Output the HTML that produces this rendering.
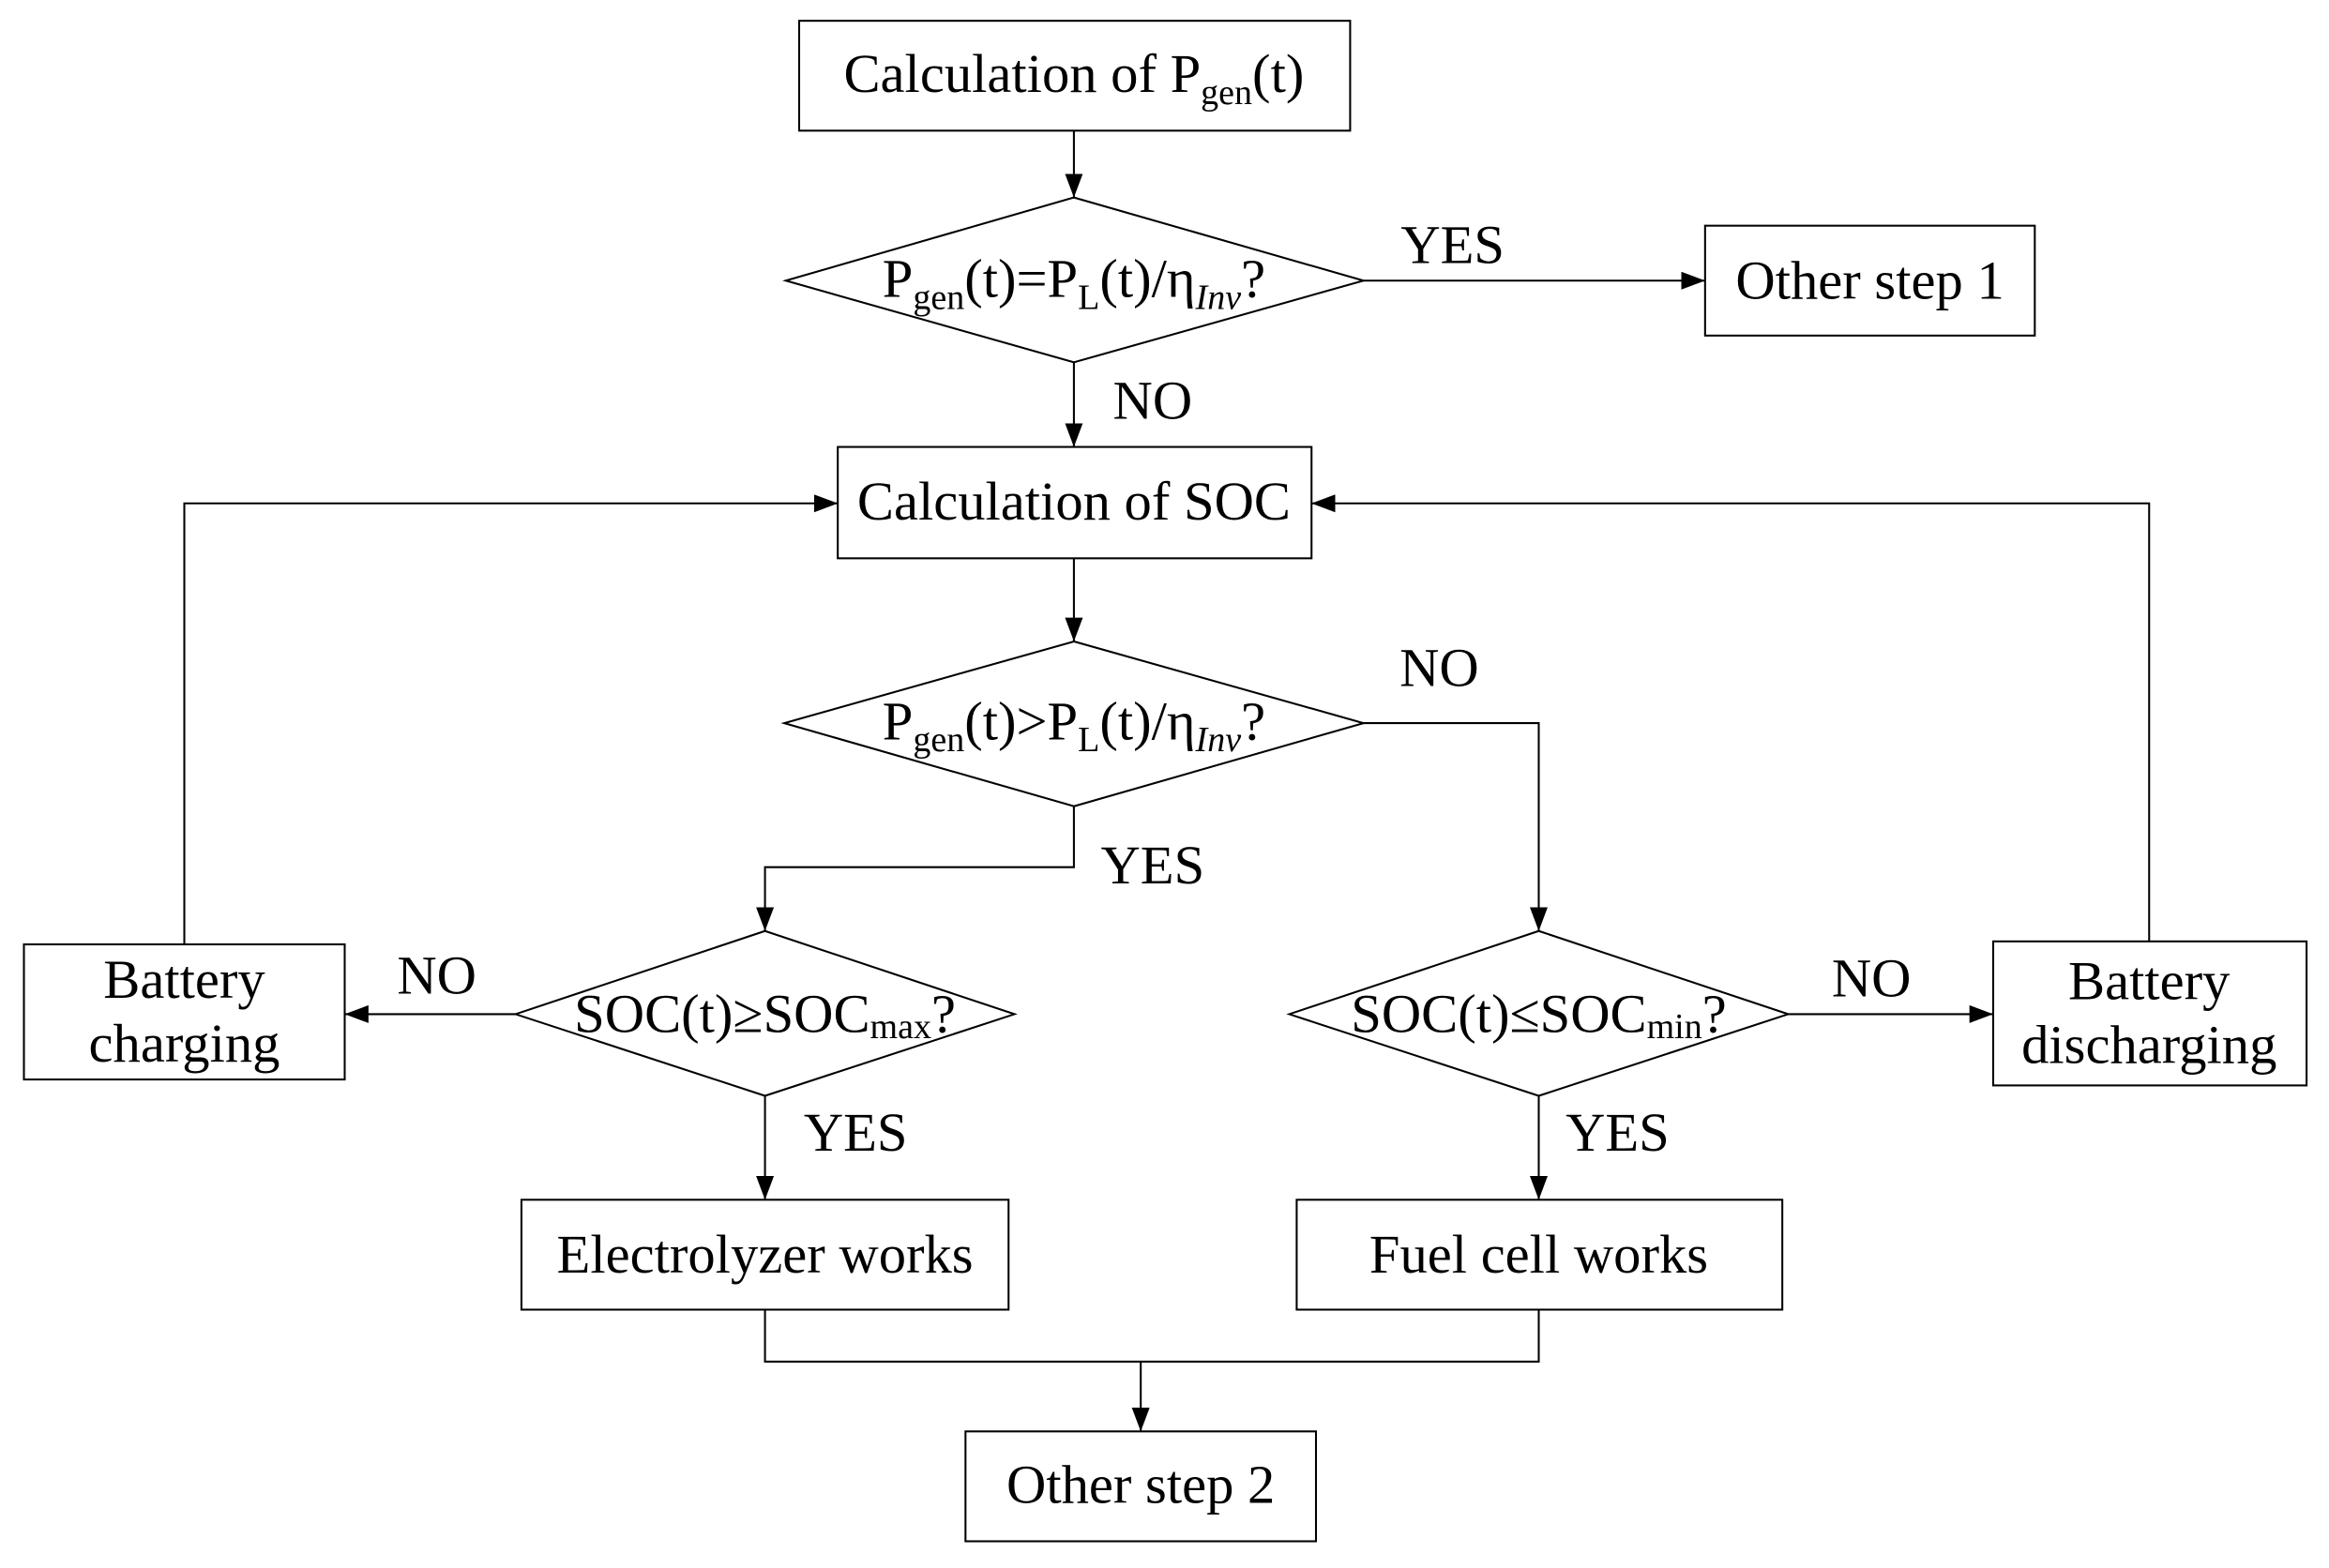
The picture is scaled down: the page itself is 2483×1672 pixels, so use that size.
<!DOCTYPE html>
<html><head><meta charset="utf-8"><style>html,body{margin:0;padding:0;background:#fff}svg{display:block}</style></head>
<body>
<svg width="2483" height="1672" viewBox="0 0 1568 1056" xmlns="http://www.w3.org/2000/svg" font-family="'Liberation Serif', serif" font-size="37">
<defs>
<marker id="a" markerWidth="16" markerHeight="12" refX="16" refY="6" orient="auto" markerUnits="userSpaceOnUse">
<path d="M0,0 L16,6 L0,12 Z" fill="#000"/>
</marker>
</defs>
<g fill="none" stroke="#000" stroke-width="1.3">
<rect x="538" y="14" width="371" height="74"/>
<polygon points="529,189 723,133 918,189 723,244"/>
<rect x="1148" y="152" width="222" height="74"/>
<rect x="564" y="301" width="319" height="75"/>
<polygon points="528,487 723,432 918,487 723,543"/>
<polygon points="347,683 515,627 683,683 515,738"/>
<polygon points="868,683 1036,627 1204,683 1036,738"/>
<rect x="16" y="636" width="216" height="91"/>
<rect x="1342" y="634" width="211" height="97"/>
<rect x="351" y="808" width="328" height="74"/>
<rect x="873" y="808" width="327" height="74"/>
<rect x="650" y="964" width="236" height="74"/>
<path d="M723,88 V133" marker-end="url(#a)"/>
<path d="M918,189 H1148" marker-end="url(#a)"/>
<path d="M723,244 V301" marker-end="url(#a)"/>
<path d="M723,376 V432" marker-end="url(#a)"/>
<path d="M918,487 H1036 V627" marker-end="url(#a)"/>
<path d="M723,543 V584 H515 V627" marker-end="url(#a)"/>
<path d="M347,683 H232" marker-end="url(#a)"/>
<path d="M1204,683 H1342" marker-end="url(#a)"/>
<path d="M124,636 V339 H564" marker-end="url(#a)"/>
<path d="M1447,634 V339 H883" marker-end="url(#a)"/>
<path d="M515,738 V808" marker-end="url(#a)"/>
<path d="M1036,738 V808" marker-end="url(#a)"/>
<path d="M515,882 V917 H1036 V882"/>
<path d="M768,917 V964" marker-end="url(#a)"/>
</g>
<g fill="#000" text-anchor="middle">
<text x="723" y="62">Calculation of P<tspan font-size="24" dy="8">gen</tspan><tspan dy="-8">(t)</tspan></text>
<text x="723" y="200">P<tspan font-size="24" dy="8">gen</tspan><tspan dy="-8">(t)=P</tspan><tspan font-size="24" dy="8">L</tspan><tspan dy="-8">(t)/η</tspan><tspan font-size="24" font-style="italic" dy="8">Inv</tspan><tspan dy="-8">?</tspan></text>
<text x="1259" y="201">Other step 1</text>
<text x="978" y="177">YES</text>
<text x="776" y="282">NO</text>
<text x="723" y="350">Calculation of SOC</text>
<text x="723" y="498">P<tspan font-size="24" dy="8">gen</tspan><tspan dy="-8">(t)&gt;P</tspan><tspan font-size="24" dy="8">L</tspan><tspan dy="-8">(t)/η</tspan><tspan font-size="24" font-style="italic" dy="8">Inv</tspan><tspan dy="-8">?</tspan></text>
<text x="969" y="462">NO</text>
<text x="776" y="595">YES</text>
<text x="515" y="695">SOC(t)≥SOC<tspan font-size="24" dy="4">max</tspan><tspan dy="-4">?</tspan></text>
<text x="1036" y="695">SOC(t)≤SOC<tspan font-size="24" dy="4">min</tspan><tspan dy="-4">?</tspan></text>
<text x="294" y="669">NO</text>
<text x="1260" y="671">NO</text>
<text x="124" y="672">Battery</text>
<text x="124" y="715">charging</text>
<text x="1447" y="673">Battery</text>
<text x="1447" y="716">discharging</text>
<text x="576" y="775">YES</text>
<text x="1089" y="775">YES</text>
<text x="515" y="857">Electrolyzer works</text>
<text x="1036" y="857">Fuel cell works</text>
<text x="768" y="1012">Other step 2</text>
</g>
</svg>
</body></html>
